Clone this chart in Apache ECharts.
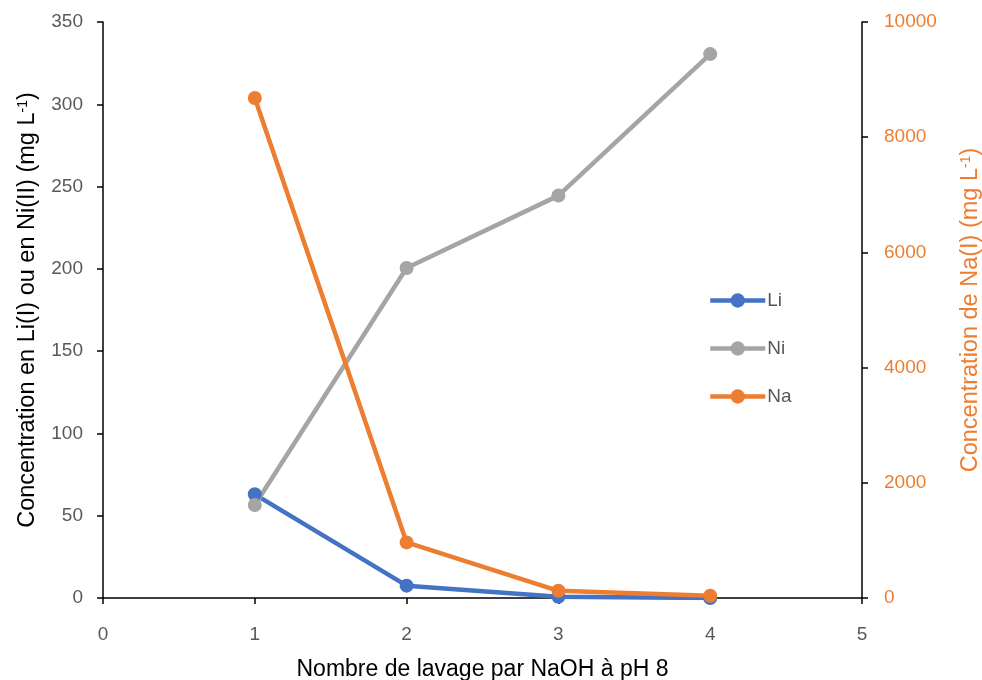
<!DOCTYPE html>
<html><head><meta charset="utf-8">
<script src="https://cdn.jsdelivr.net/npm/echarts@6/dist/echarts.min.js"></script>
<style>html,body{margin:0;padding:0;background:#fff}#c{width:982px;height:680px}</style>
</head><body><div id="c"></div>
<script>
const xValues = [1, 2, 3, 4];
const liValues = [63, 7.5, 0.8, 0];
const niValues = [56.5, 200.5, 244.5, 330.5];
const naValues = [8680, 965, 125, 40];
const seriesNames = ['Li', 'Ni', 'Na'];
const colors = ['#4472C4', '#A5A5A5', '#ED7D31'];

const FONT = 'Liberation Sans';
const toPairs = v => xValues.map((x, i) => [x, v[i]]);
const mkSeries = (name, vals, color, yIdx) => ({
  name, type: 'line', yAxisIndex: yIdx, data: toPairs(vals),
  symbol: 'circle', symbolSize: 14,
  lineStyle: { width: 4.5, color }, itemStyle: { color },
  emphasis: { disabled: true }
});

const chart = echarts.init(document.getElementById('c'));
chart.setOption({
  animation: false,
  textStyle: { fontFamily: FONT },
  grid: { left: 103, right: 120, top: 22, bottom: 82, containLabel: false, outerBoundsMode: 'none' },
  legend: {
    orient: 'vertical', left: 703, top: 286, itemWidth: 55, itemHeight: 18, itemGap: 29,
    data: seriesNames,
    lineStyle: { width: 4.5 },
    textStyle: { color: '#595959', fontSize: 19, fontFamily: FONT, padding: [0, 0, 0, -3] }
  },
  xAxis: {
    type: 'value', min: 0, max: 5, interval: 1,
    name: 'Nombre de lavage par NaOH à pH 8', nameLocation: 'middle', nameGap: 60,
    nameTextStyle: { color: '#000', fontSize: 23, fontFamily: FONT },
    axisLine: { show: true, lineStyle: { color: '#000', width: 1.5 } },
    axisTick: { show: true, length: 6, lineStyle: { color: '#000', width: 1.5 } },
    axisLabel: { color: '#595959', fontSize: 19, margin: 27 },
    splitLine: { show: false }
  },
  yAxis: [{
    type: 'value', min: 0, max: 350, interval: 50, position: 'left',
    name: 'Concentration en Li(I) ou en Ni(II) (mg L{s|-1})',
    nameLocation: 'middle', nameRotate: 90, nameGap: 63,
    nameTextStyle: { color: '#000', fontSize: 23.5, fontFamily: FONT,
      rich: { s: { fontSize: 14, verticalAlign: 'top', color: '#000', padding: [0, 0, 9, 0] } } },
    axisLine: { show: true, lineStyle: { color: '#000', width: 1.5 } },
    axisTick: { show: true, length: 6, lineStyle: { color: '#000', width: 1.5 } },
    axisLabel: { color: '#595959', fontSize: 19, margin: 20 },
    splitLine: { show: false }
  }, {
    type: 'value', min: 0, max: 10000, interval: 2000, position: 'right',
    name: 'Concentration de Na(I) (mg L{s|-1})',
    nameLocation: 'middle', nameRotate: 90, nameGap: 97,
    nameTextStyle: { color: '#ED7D31', fontSize: 23.5, fontFamily: FONT,
      rich: { s: { fontSize: 14, verticalAlign: 'top', color: '#ED7D31', padding: [0, 0, 9, 0] } } },
    axisLine: { show: true, lineStyle: { color: '#000', width: 1.5 } },
    axisTick: { show: true, length: 6, lineStyle: { color: '#000', width: 1.5 } },
    axisLabel: { color: '#ED7D31', fontSize: 19, margin: 22, formatter: v => String(v) },
    splitLine: { show: false }
  }],
  series: [
    mkSeries(seriesNames[0], liValues, colors[0], 0),
    mkSeries(seriesNames[1], niValues, colors[1], 0),
    mkSeries(seriesNames[2], naValues, colors[2], 1)
  ]
});
</script></body></html>
